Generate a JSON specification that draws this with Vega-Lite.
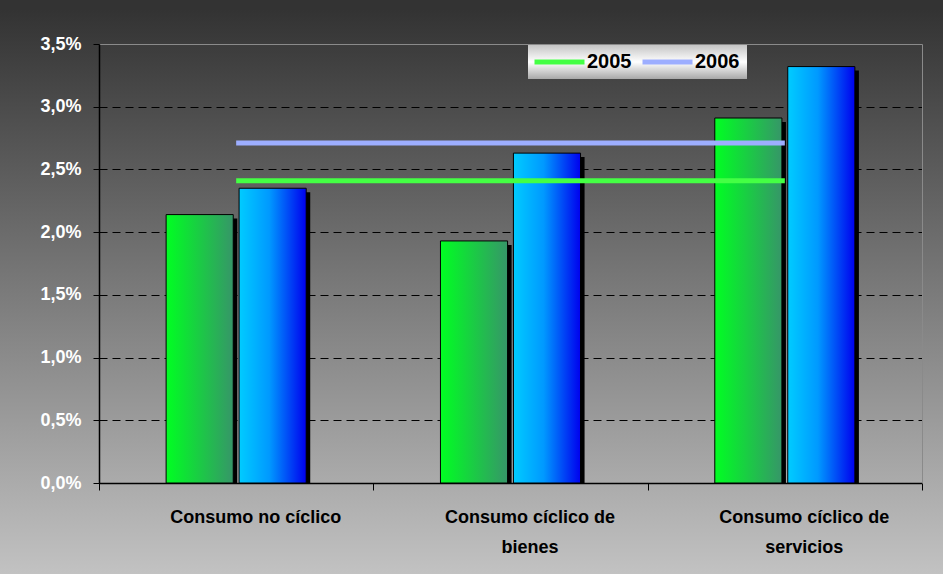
{
  "$schema": "https://vega.github.io/schema/vega-lite/v6.json",
  "width": 823,
  "height": 439,
  "autosize": {"type": "none"},
  "padding": {"left": 99, "top": 44, "right": 21, "bottom": 91},
  "background": "#ffffff",
  "config": {
    "font": "Liberation Sans",
    "view": {
      "fill": {"gradient": "linear", "x1": 0, "y1": -0.0774, "x2": 0, "y2": 1.2073,
        "stops": [{"offset": 0, "color": "#333333"}, {"offset": 1, "color": "#c2c2c2"}]},
      "stroke": {"gradient": "linear", "x1": 0, "y1": -0.0774, "x2": 0, "y2": 1.2073,
        "stops": [{"offset": 0, "color": "#333333"}, {"offset": 1, "color": "#c2c2c2"}]},
      "strokeWidth": 200
    }
  },
  "datasets": {
    "bars": [
      {"cat": "Consumo no cíclico", "year": "2005", "value": 2.14},
      {"cat": "Consumo no cíclico", "year": "2006", "value": 2.35},
      {"cat": "Consumo cíclico de bienes", "year": "2005", "value": 1.93},
      {"cat": "Consumo cíclico de bienes", "year": "2006", "value": 2.63},
      {"cat": "Consumo cíclico de servicios", "year": "2005", "value": 2.91},
      {"cat": "Consumo cíclico de servicios", "year": "2006", "value": 3.32}
    ],
    "avg": [
      {"cat": "Consumo no cíclico", "year": "2005", "value": 2.41},
      {"cat": "Consumo cíclico de bienes", "year": "2005", "value": 2.41},
      {"cat": "Consumo cíclico de servicios", "year": "2005", "value": 2.41},
      {"cat": "Consumo no cíclico", "year": "2006", "value": 2.71},
      {"cat": "Consumo cíclico de bienes", "year": "2006", "value": 2.71},
      {"cat": "Consumo cíclico de servicios", "year": "2006", "value": 2.71}
    ]
  },
  "encoding": {
    "x": {
      "field": "cat", "type": "nominal",
      "sort": ["Consumo no cíclico", "Consumo cíclico de bienes", "Consumo cíclico de servicios"],
      "scale": {"paddingInner": 0, "paddingOuter": 0},
      "axis": {
        "title": null, "labelAngle": 0, "tickBand": "extent",
        "domainColor": "#000000", "tickColor": "#000000", "tickSize": 7, "domainWidth": 1.5,
        "labelFont": "Liberation Sans", "labelFontSize": 18, "labelFontWeight": "bold", "labelColor": "#000000",
        "labelPadding": 18, "labelLineHeight": 30, "labelOffset": 19, "labelLimit": 300,
        "labelExpr": "split(replace(datum.label, ' de ', ' de|'), '|')"
      }
    }
  },
  "layer": [
    {
      "data": {"name": "bars"},
      "mark": {"type": "bar", "fill": "#000000", "yOffset": 4, "clip": true},
      "encoding": {
        "y": {
          "field": "value", "type": "quantitative",
          "scale": {"domain": [0, 3.5], "nice": false, "zero": true},
          "axis": {
            "orient": "left", "title": null, "values": [0, 0.5, 1, 1.5, 2, 2.5, 3, 3.5],
            "labelExpr": "replace(format(datum.value, '.1f'), '.', ',') + '%'",
            "labelFont": "Liberation Sans", "labelFontSize": 18, "labelFontWeight": "bold", "labelColor": "#ffffff",
            "labelPadding": 12, "tickSize": 6, "tickColor": "#000000", "domainColor": "#000000", "domainWidth": 1.5,
            "grid": true,
            "gridColor": {"condition": {"test": "datum.value >= 3.5", "value": "#8a8a8a"}, "value": "#000000"},
            "gridDash": {"condition": {"test": "datum.value >= 3.5", "value": []}, "value": [8, 5]},
            "gridWidth": 1, "gridOpacity": 1
          }
        },
        "xOffset": {"field": "year", "type": "nominal", "scale": {"paddingInner": 0.08, "paddingOuter": 0.92, "align": 0.53}}
      }
    },
    {
      "data": {"name": "bars"},
      "mark": {"type": "bar", "stroke": "#000000", "strokeWidth": 1},
      "encoding": {
        "y": {"field": "value", "type": "quantitative", "axis": null},
        "xOffset": {"field": "year", "type": "nominal", "scale": {"paddingInner": 0.08, "paddingOuter": 0.92, "align": 0.5}},
        "fill": {
          "condition": {"test": "datum.year == '2005'",
            "value": {"gradient": "linear", "x1": 0, "y1": 0, "x2": 1, "y2": 0,
              "stops": [{"offset": 0, "color": "#00ff22"}, {"offset": 1, "color": "#369668"}]}},
          "value": {"gradient": "linear", "x1": 0, "y1": 0, "x2": 1, "y2": 0,
            "stops": [{"offset": 0, "color": "#00ccff"}, {"offset": 0.45, "color": "#0099ff"}, {"offset": 1, "color": "#0000ee"}]}
        }
      }
    },
    {
      "data": {"name": "avg"},
      "mark": {"type": "line", "strokeWidth": 5},
      "encoding": {
        "y": {
          "field": "value", "type": "quantitative",
          "axis": {"orient": "right", "title": null, "labels": false, "ticks": false, "grid": false,
            "domainColor": "#8a8a8a", "domainWidth": 1}
        },
        "color": {
          "field": "year", "type": "nominal",
          "scale": {"domain": ["2005", "2006"], "range": ["#44ff44", "#9daeff"]},
          "legend": {
            "title": null, "orient": "none", "legendX": 429, "legendY": 1, "direction": "horizontal",
            "symbolType": "M-5,0H5", "symbolSize": 100, "symbolStrokeWidth": 5, "symbolOffset": 14.5,
            "labelFont": "Liberation Sans", "labelFontSize": 20, "labelFontWeight": "bold", "labelColor": "#000000",
            "labelOffset": 17.5, "columnPadding": 0, "padding": 7,
            "encode": {
              "legend": {"update": {"fill": {"value": {"gradient": "linear", "x1": 0, "y1": 0, "x2": 0, "y2": 1,
                "stops": [{"offset": 0, "color": "#c4c4c4"}, {"offset": 0.5, "color": "#ffffff"}, {"offset": 1, "color": "#a8a8a8"}]}}}}
            }
          }
        }
      }
    }
  ],
  "resolve": {"axis": {"y": "independent"}, "scale": {"xOffset": "independent"}}
}
